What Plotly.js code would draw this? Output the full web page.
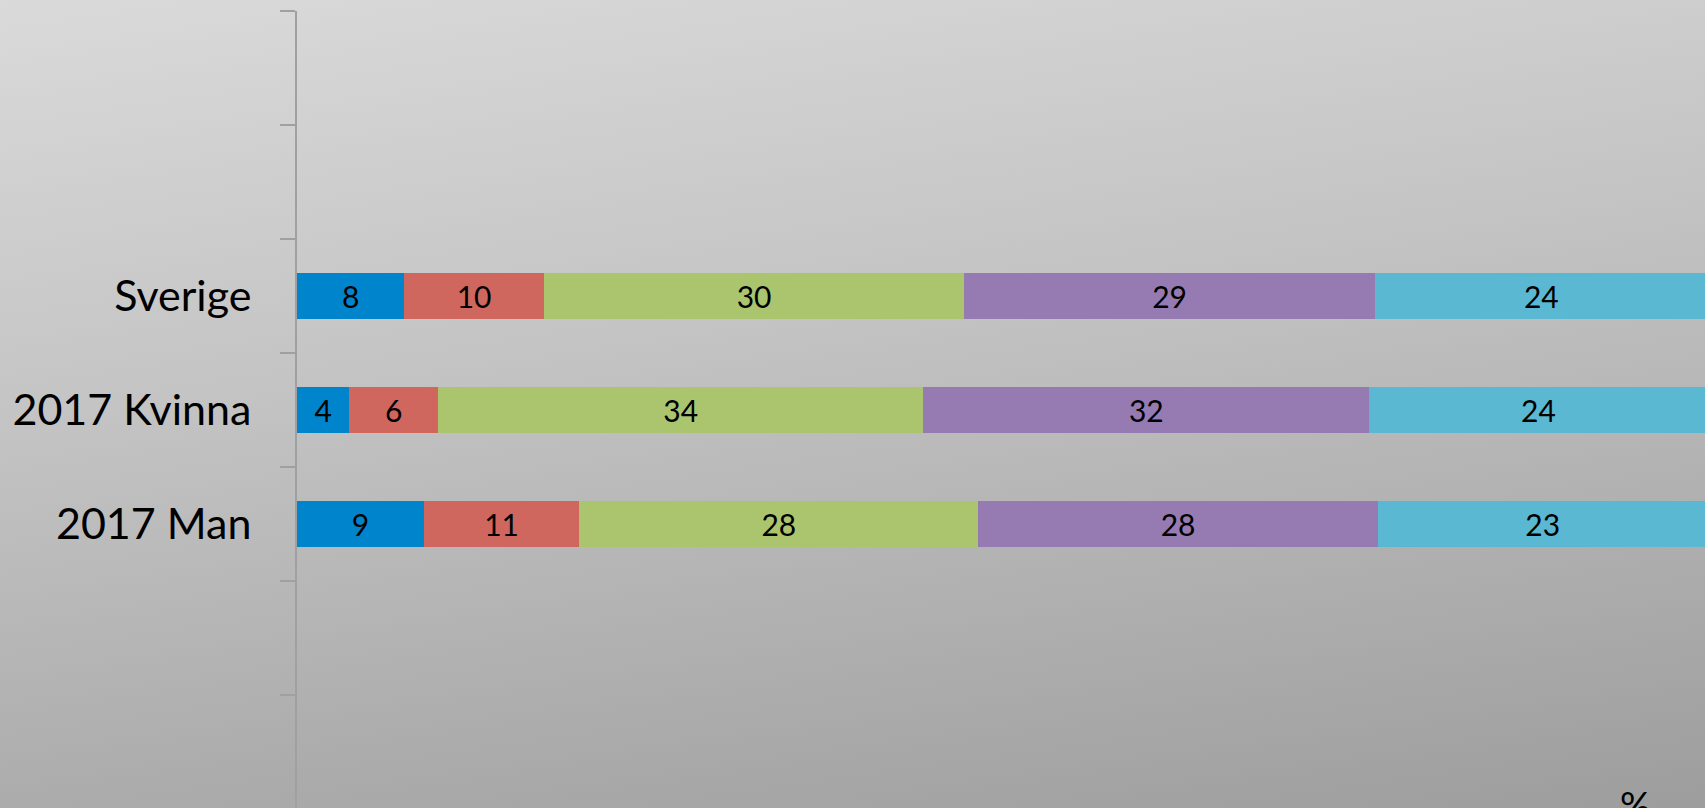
<!DOCTYPE html>
<html>
<head>
<meta charset="utf-8">
<script src="https://cdn.plot.ly/plotly-3.0.1.min.js"></script>
<style>
  html, body { margin: 0; padding: 0; width: 1705px; height: 808px; overflow: hidden; }
  body { background: linear-gradient(172deg, #dadada 0%, #c4c4c4 40%, #9d9d9d 100%); }
  #chart { width: 1705px; height: 808px; }
</style>
</head>
<body>
<div id="chart"></div>
<script>
// Category slots, top to bottom (blank slots are empty rows on the axis)
const slots = [' ', '  ', 'Sverige', '2017 Kvinna', '2017 Man', '   ', '    '];
const categories = ['Sverige', '2017 Kvinna', '2017 Man'];

// Series values (percent), order matches categories
const series1 = [7.6, 3.7, 9.0];
const series2 = [9.9, 6.3, 11.0];
const series3 = [29.8, 34.4, 28.3];
const series4 = [29.1, 31.6, 28.3];
const series5 = [23.6, 24.0, 23.4];

const seriesList = [series1, series2, series3, series4, series5];
const colors = ['#0084cc', '#d0675f', '#abc46e', '#957bb1', '#5bb8d2'];

const traces = seriesList.map((vals, i) => ({
  type: 'bar',
  orientation: 'h',
  y: categories,
  x: vals,
  marker: { color: colors[i], line: { width: 0 } },
  texttemplate: '%{x:.0f}',
  textposition: 'inside',
  insidetextanchor: 'middle',
  textfont: { family: 'Lato, sans-serif', size: 30, color: '#000000' },
  hoverinfo: 'none',
  showlegend: false
}));

const layout = {
  width: 1705,
  height: 808,
  margin: { l: 297, r: 0, t: 11, b: 0, pad: 0 },
  paper_bgcolor: 'rgba(0,0,0,0)',
  plot_bgcolor: 'rgba(0,0,0,0)',
  barmode: 'stack',
  bargap: 0.6,
  uniformtext: { mode: 'show', minsize: 30 },
  xaxis: {
    range: [0, 99.8],
    visible: false,
    showgrid: false,
    zeroline: false,
    fixedrange: true
  },
  yaxis: {
    type: 'category',
    categoryorder: 'array',
    categoryarray: slots,
    range: [6.49, -0.5],
    tickson: 'boundaries',
    ticks: 'outside',
    ticklen: 15,
    tickwidth: 2,
    tickcolor: '#a0a0a0',
    showline: true,
    linecolor: '#a0a0a0',
    linewidth: 2,
    showgrid: false,
    zeroline: false,
    ticklabelstandoff: 35,
    tickfont: { family: 'Lato, sans-serif', size: 43, color: '#000000' },
    fixedrange: true
  },
  annotations: [{
    text: '%',
    xref: 'paper', yref: 'paper',
    x: 0.95, y: 0.035,
    xanchor: 'center', yanchor: 'top',
    showarrow: false,
    font: { family: 'Lato, sans-serif', size: 38, color: '#000000' }
  }]
};

Plotly.newPlot('chart', traces, layout, { displayModeBar: false, staticPlot: true });
</script>
</body>
</html>
